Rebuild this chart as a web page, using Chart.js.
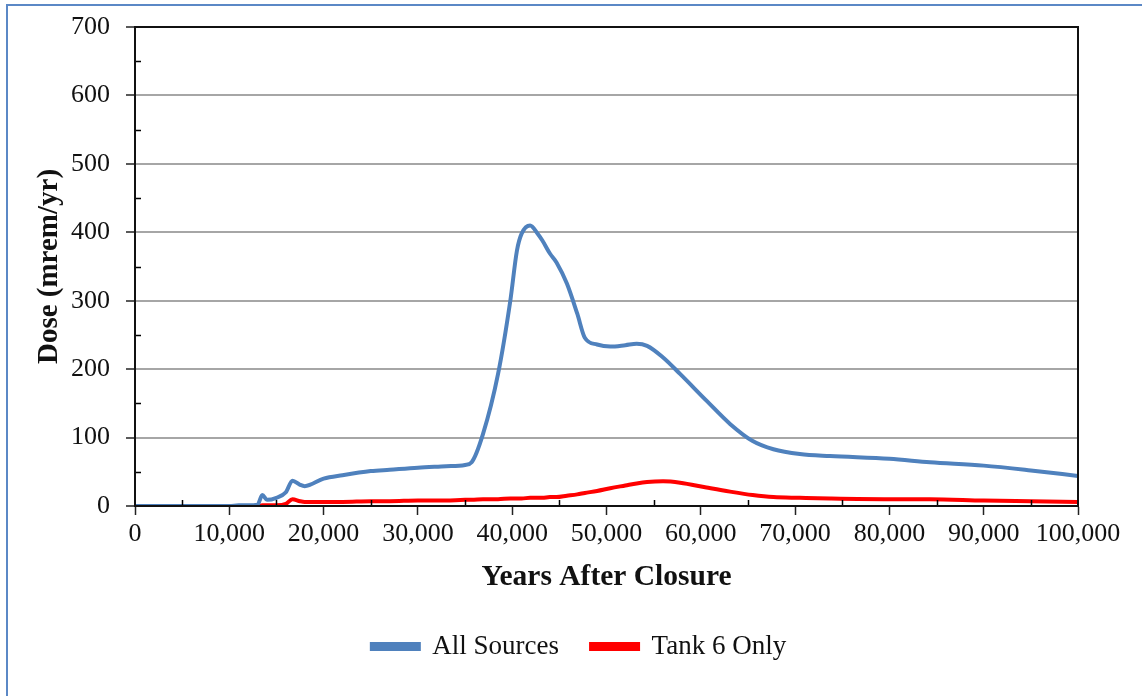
<!DOCTYPE html>
<html>
<head>
<meta charset="utf-8">
<script src="https://cdn.jsdelivr.net/npm/chart.js@4"></script>
<style>
  html, body { margin: 0; padding: 0; background: #fff; overflow: hidden; }
  #frame { position: absolute; left: 6px; top: 4px; width: 1300px; height: 900px; border-left: 2px solid #5b88c6; border-top: 2px solid #5b88c6; }
  #wrap { position: absolute; left: 0; top: 0; width: 1142px; height: 696px; }
</style>
</head>
<body>
<div id="frame"></div>
<div id="wrap"><canvas id="dose"></canvas></div>
<script>
// years after closure
const years = [0, 5000, 10000, 11000, 12000, 13000, 13500, 14000, 15000, 16000,
    16700, 17500, 18000, 20000, 22000, 25000, 27000, 30000, 33000, 35000,
    35700, 36900, 38500, 39800, 40500, 41000, 41900, 42700, 43200, 44000,
    44700, 45800, 46900, 47700, 49000, 50400, 52000, 53200, 54300, 56000,
    57800, 60600, 63100, 65500, 67700, 70500, 73700, 80000, 84300, 90000,
    95000, 100000];

const allSources = [0, 0, 0, 1, 1, 2, 16, 9, 12, 20,
    37, 31, 29, 40, 45, 51, 53, 56, 58, 60,
    64, 105, 193, 300, 373, 398, 410, 398, 388, 369,
    356, 325, 281, 246, 236, 233, 235, 237, 234, 217,
    193, 154, 120, 95, 83, 76, 73, 69, 64, 59,
    52, 44];

const tank6Only = [0, 0, 0, 0, 0, 0, 1, 1, 1, 3,
    10, 7, 6, 6, 6, 7, 7, 8, 8, 9,
    9, 10, 10, 11, 11, 11, 12, 12, 12, 13,
    13, 15, 17, 19, 22, 26, 30, 33, 35, 36,
    34, 27, 21, 16, 13, 12, 11, 10, 10, 8,
    7, 6];

const serif = '"Liberation Serif", "Times New Roman", serif';

const toPoints = (vals) => vals.map((v, i) => ({ x: years[i], y: v }));

// minor ticks pointing into the plot + black frame round the plot area
const frameAndMinorTicks = {
    id: 'frameAndMinorTicks',
    afterLayout(chart) {
        // legend sits a bit right of the canvas centre in the original
        chart.legend.left += 40;
        chart.legend.right += 40;
    },
    afterDraw(chart) {
        const { ctx, chartArea: a, scales: { x, y } } = chart;
        ctx.save();
        ctx.strokeStyle = '#000';
        ctx.lineWidth = 1.5;
        ctx.beginPath();
        for (let v = 50; v < 700; v += 100) {
            const py = Math.round(y.getPixelForValue(v)) + 0.5;
            ctx.moveTo(a.left, py);
            ctx.lineTo(a.left + 6, py);
        }
        for (let v = 5000; v < 100000; v += 10000) {
            const px = Math.round(x.getPixelForValue(v)) + 0.5;
            ctx.moveTo(px, a.bottom);
            ctx.lineTo(px, a.bottom - 6);
        }
        ctx.stroke();
        ctx.lineWidth = 2;
        ctx.strokeStyle = '#111';
        ctx.strokeRect(a.left, a.top, a.right - a.left, a.bottom - a.top);
        ctx.restore();
    }
};

const ctxDose = document.getElementById('dose').getContext('2d');
const doseChart = new Chart(ctxDose, {
    type: 'line',
    data: {
        datasets: [{
            label: 'All Sources',
            data: toPoints(allSources),
            borderColor: '#4f81bd',
            backgroundColor: '#4f81bd',
            borderWidth: 4,
            pointRadius: 0,
            cubicInterpolationMode: 'monotone'
        }, {
            label: 'Tank 6 Only',
            data: toPoints(tank6Only),
            borderColor: '#ff0000',
            backgroundColor: '#ff0000',
            borderWidth: 4,
            pointRadius: 0,
            cubicInterpolationMode: 'monotone'
        }]
    },
    options: {
        responsive: true,
        maintainAspectRatio: false,
        animation: false,
        layout: {
            padding: { left: 0, top: 27, right: 64, bottom: 26 }
        },
        plugins: {
            legend: {
                position: 'bottom',
                labels: {
                    boxWidth: 47,
                    boxHeight: 5,
                    padding: 32,
                    color: '#111',
                    font: { family: serif, size: 27 }
                }
            },
            tooltip: { enabled: false }
        },
        scales: {
            x: {
                type: 'linear',
                min: 0,
                max: 100000,
                afterFit(scale) { scale.height = 95; },
                border: { color: '#000', width: 2 },
                grid: {
                    drawOnChartArea: false,
                    tickLength: 9,
                    tickColor: '#222',
                    tickWidth: 1.5
                },
                ticks: {
                    stepSize: 10000,
                    padding: 4,
                    color: '#111',
                    maxRotation: 0,
                    font: { family: serif, size: 26 },
                    callback: (v) => v.toLocaleString('en-US')
                },
                title: {
                    display: true,
                    text: 'Years After Closure',
                    color: '#111',
                    padding: { top: 0, bottom: 6 },
                    font: { family: serif, size: 29.5, weight: 'bold' }
                }
            },
            y: {
                min: 0,
                max: 700,
                afterFit(scale) {
                    scale.width = 135;
                    scale.paddingTop = 0;
                    scale.paddingBottom = 0;
                },
                border: { color: '#000', width: 2 },
                grid: {
                    color: '#a6a6a6',
                    lineWidth: 2,
                    tickLength: 9,
                    tickColor: '#222',
                    tickWidth: 1.5
                },
                ticks: {
                    stepSize: 100,
                    padding: 16,
                    color: '#111',
                    font: { family: serif, size: 26 }
                },
                title: {
                    display: true,
                    text: 'Dose (mrem/yr)',
                    color: '#111',
                    padding: { top: 32, bottom: 0 },
                    font: { family: serif, size: 29, weight: 'bold' }
                }
            }
        }
    },
    plugins: [frameAndMinorTicks]
});
</script>
</body>
</html>
